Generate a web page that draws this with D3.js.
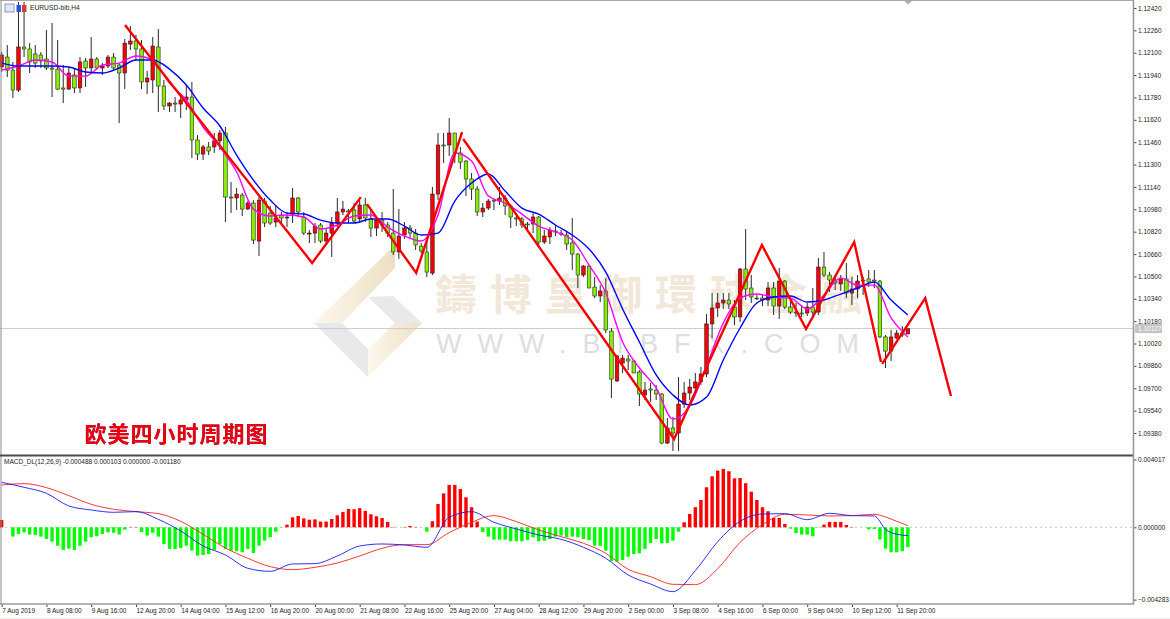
<!DOCTYPE html>
<html><head><meta charset="utf-8">
<script src="https://cdnjs.cloudflare.com/ajax/libs/d3/7.8.5/d3.min.js"></script>
<style>
html,body{margin:0;padding:0;background:#fff;overflow:hidden}
svg{display:block}
text{font-family:"Liberation Sans",Arial,sans-serif}
</style></head><body>
<svg id="c" width="1170" height="619"></svg>
<script>
// ---------- data ----------
const symbolTitle = "EURUSD-bib,H4";
const macdTitle = "MACD_DL(12,26,9) -0.000488 0.000103 0.000000 -0.001180";
const chartNote = "欧美四小时周期图";
const wmCn = "鑄博皇御環球金融";
const wmEn = "WWW.BIBFX.COM";
const lastPrice = 1.10127;

const opens = [1.11998,1.12069,1.11976,1.11833,1.12141,1.12127,1.12091,1.12084,1.12055,1.11991,1.11983,1.11848,1.11840,1.11941,1.11848,1.12041,1.11991,1.12055,1.11991,1.12005,1.12069,1.12012,1.11955,1.12162,1.12184,1.12127,1.11891,1.11905,1.12141,1.11862,1.11719,1.11740,1.11733,1.11762,1.11783,1.11476,1.11375,1.11426,1.11426,1.11469,1.11526,1.11068,1.11061,1.11082,1.10982,1.11025,1.10753,1.11039,1.10953,1.10889,1.10939,1.10918,1.10946,1.11061,1.10925,1.10803,1.10810,1.10868,1.10753,1.10810,1.10882,1.10961,1.10968,1.10975,1.10911,1.11011,1.10911,1.10846,1.10903,1.10868,1.10810,1.10675,1.10796,1.10846,1.10810,1.10717,1.10675,1.10524,1.11089,1.11440,1.11440,1.11526,1.11383,1.11325,1.11197,1.11125,1.10961,1.10989,1.11046,1.11039,1.11061,1.11004,1.10918,1.10911,1.10875,1.10875,1.10925,1.10746,1.10782,1.10825,1.10810,1.10796,1.10739,1.10660,1.10510,1.10574,1.10424,1.10360,1.10396,1.10109,1.09752,1.09880,1.09909,1.09895,1.09816,1.09652,1.09695,1.09687,1.09659,1.09308,1.09416,1.09380,1.09587,1.09666,1.09702,1.09745,1.09802,1.10160,1.10274,1.10310,1.10331,1.10281,1.10210,1.10553,1.10417,1.10345,1.10345,1.10331,1.10417,1.10288,1.10467,1.10281,1.10245,1.10238,1.10238,1.10281,1.10245,1.10567,1.10510,1.10474,1.10446,1.10482,1.10381,1.10410,1.10474,1.10482,1.10474,1.10467,1.10067,1.09966,1.10059,1.10095,1.10088];
const highs = [1.12105,1.12155,1.12034,1.12463,1.12463,1.12169,1.12155,1.12105,1.12262,1.12313,1.12191,1.12012,1.11998,1.11991,1.12069,1.12062,1.12212,1.12069,1.12026,1.12084,1.12098,1.12026,1.12198,1.12291,1.12227,1.12191,1.11969,1.12212,1.12270,1.11905,1.11747,1.11783,1.11798,1.11869,1.11891,1.11511,1.11440,1.11462,1.11526,1.11547,1.11569,1.11175,1.11133,1.11097,1.11039,1.11046,1.11068,1.11061,1.11004,1.11011,1.10961,1.10961,1.11133,1.11068,1.10961,1.10832,1.10882,1.10882,1.10846,1.10925,1.11061,1.11039,1.10982,1.11025,1.11046,1.11061,1.10975,1.10925,1.10961,1.10889,1.11125,1.10982,1.10889,1.10868,1.10839,1.10739,1.10760,1.11140,1.11526,1.11526,1.11633,1.11526,1.11426,1.11333,1.11240,1.11147,1.11025,1.11054,1.11054,1.11140,1.11082,1.11018,1.10953,1.10925,1.10889,1.10953,1.10932,1.10832,1.10853,1.10868,1.10832,1.10818,1.10918,1.10667,1.10581,1.10581,1.10496,1.10438,1.10488,1.10131,1.09938,1.09938,1.09938,1.09902,1.09830,1.09745,1.09738,1.09723,1.09666,1.09487,1.09494,1.09780,1.09745,1.09766,1.09809,1.09852,1.10231,1.10381,1.10381,1.10381,1.10381,1.10331,1.10560,1.10839,1.10510,1.10367,1.10367,1.10460,1.10460,1.10560,1.10474,1.10345,1.10310,1.10296,1.10310,1.10417,1.10632,1.10675,1.10531,1.10510,1.10510,1.10596,1.10496,1.10510,1.10496,1.10546,1.10546,1.10474,1.10081,1.10117,1.10117,1.10145,1.10124];
const lows = [1.11962,1.11926,1.11776,1.11819,1.12069,1.11955,1.11991,1.11991,1.11976,1.11783,1.11833,1.11740,1.11833,1.11812,1.11812,1.11855,1.11962,1.11976,1.11941,1.11991,1.11976,1.11597,1.11840,1.12119,1.12048,1.11840,1.11805,1.11812,1.11676,1.11690,1.11676,1.11676,1.11633,1.11690,1.11347,1.11333,1.11333,1.11368,1.11383,1.11404,1.10889,1.10953,1.10975,1.10932,1.10975,1.10732,1.10646,1.10853,1.10868,1.10853,1.10882,1.10853,1.10882,1.10925,1.10796,1.10739,1.10739,1.10739,1.10739,1.10639,1.10853,1.10939,1.10882,1.10882,1.10889,1.10889,1.10782,1.10789,1.10818,1.10782,1.10653,1.10625,1.10768,1.10768,1.10689,1.10667,1.10496,1.10510,1.11046,1.11311,1.11361,1.11311,1.11268,1.11075,1.11046,1.10932,1.10925,1.10975,1.10975,1.11011,1.10939,1.10846,1.10860,1.10846,1.10818,1.10810,1.10717,1.10732,1.10732,1.10789,1.10789,1.10689,1.10546,1.10417,1.10496,1.10417,1.10345,1.10317,1.10095,1.09630,1.09745,1.09809,1.09830,1.09809,1.09573,1.09616,1.09602,1.09616,1.09301,1.09301,1.09251,1.09251,1.09559,1.09616,1.09652,1.09723,1.09780,1.10059,1.10210,1.10267,1.10267,1.10152,1.10174,1.10331,1.10310,1.10331,1.10288,1.10288,1.10224,1.10195,1.10267,1.10231,1.10210,1.10210,1.10217,1.10210,1.10224,1.10496,1.10388,1.10403,1.10396,1.10345,1.10296,1.10345,1.10367,1.10424,1.10417,1.10059,1.09845,1.09895,1.10052,1.10067,1.10088];
const closes = [1.12084,1.11976,1.11833,1.12141,1.12127,1.12034,1.12026,1.12041,1.11991,1.11983,1.11840,1.11840,1.11955,1.11848,1.12034,1.11991,1.12055,1.11991,1.12005,1.12069,1.11991,1.11955,1.12169,1.12184,1.12127,1.11891,1.11919,1.12148,1.11862,1.11719,1.11740,1.11733,1.11762,1.11783,1.11476,1.11375,1.11426,1.11397,1.11469,1.11526,1.11068,1.11061,1.11089,1.10982,1.11025,1.10760,1.11046,1.10882,1.10882,1.10918,1.10918,1.10925,1.11061,1.10961,1.10810,1.10810,1.10860,1.10753,1.10810,1.10882,1.10961,1.10982,1.10961,1.10896,1.11011,1.10918,1.10846,1.10903,1.10868,1.10810,1.10675,1.10789,1.10846,1.10810,1.10725,1.10682,1.10531,1.11089,1.11440,1.11433,1.11526,1.11383,1.11318,1.11197,1.11125,1.10961,1.10989,1.11039,1.11039,1.11061,1.11004,1.10925,1.10911,1.10868,1.10868,1.10925,1.10746,1.10789,1.10832,1.10818,1.10803,1.10732,1.10660,1.10510,1.10574,1.10417,1.10360,1.10396,1.10117,1.09766,1.09931,1.09916,1.09895,1.09809,1.09659,1.09687,1.09687,1.09659,1.09308,1.09416,1.09380,1.09587,1.09666,1.09709,1.09745,1.09802,1.10160,1.10274,1.10310,1.10331,1.10303,1.10210,1.10553,1.10410,1.10353,1.10340,1.10331,1.10417,1.10288,1.10467,1.10281,1.10245,1.10238,1.10231,1.10281,1.10245,1.10567,1.10510,1.10474,1.10453,1.10482,1.10381,1.10410,1.10467,1.10467,1.10460,1.10467,1.10067,1.09966,1.10067,1.10095,1.10081,1.10127];

const maBars = [0,3,6,9,12,15,18,21,24,27,30,33,36,39,42,45,48,51,54,57,60,63,66,69,72,75,78,81,84,87,90,93,96,99,102,105,108,111,114,117,120,123,126,129,132,135,138,141,144,147,150,153,156,159,162];
const blueMa = [1.12026,1.12005,1.12005,1.12005,1.11998,1.11962,1.11955,1.11991,1.12048,1.12048,1.11983,1.11869,1.11705,1.11576,1.11368,1.11189,1.11046,1.10953,1.10946,1.10903,1.10882,1.10882,1.10911,1.10911,1.10860,1.10796,1.10810,1.11039,1.11168,1.11233,1.11111,1.10989,1.10946,1.10868,1.10796,1.10696,1.10531,1.10267,1.10031,1.09795,1.09652,1.09580,1.09637,1.09902,1.10131,1.10310,1.10353,1.10360,1.10317,1.10331,1.10374,1.10417,1.10460,1.10331,1.10224];
const magentaMa = [1.11976,1.12005,1.12048,1.12034,1.11933,1.11933,1.12012,1.12026,1.12077,1.12048,1.11883,1.11762,1.11569,1.11426,1.11247,1.10982,1.10932,1.10939,1.10925,1.10839,1.10868,1.10932,1.10939,1.10853,1.10789,1.10753,1.10939,1.11383,1.11325,1.11075,1.11025,1.10946,1.10860,1.10818,1.10760,1.10581,1.10381,1.10031,1.09845,1.09702,1.09480,1.09573,1.09859,1.10167,1.10345,1.10374,1.10353,1.10345,1.10267,1.10367,1.10488,1.10438,1.10438,1.10203,1.10067];

const zigABars = [22.04,55.5,64.2];
const zigAPrices = [1.12298,1.10596,1.11067];
const zigBBars = [65.3,74.1,82.3];
const zigBPrices = [1.11017,1.10525,1.11533];
const zigCBars = [82.5,120.2,135.9,143.8,152.4,157.2];
const zigCPrices = [1.11483,1.09337,1.10725,1.10124,1.10746,1.09888];
const zigDBars = [157.4,165.1,169.7];
const zigDPrices = [1.09874,1.10345,1.09645];

const macdHist = [0.00043,0,-0.00055,-0.0004,-0.0003,-0.00043,-0.00045,-0.00055,-0.00069,-0.00085,-0.00109,-0.00134,-0.00126,-0.00134,-0.00109,-0.00085,-0.00059,-0.00053,-0.0004,-0.0003,-0.00032,-0.00043,-0.00014,0.00002,0.00002,-0.00028,-0.00049,-0.00032,-0.00055,-0.00099,-0.00128,-0.00128,-0.00122,-0.00109,-0.00138,-0.00168,-0.00164,-0.00158,-0.00134,-0.00099,-0.00128,-0.00138,-0.00142,-0.00148,-0.00128,-0.00152,-0.00109,-0.00079,-0.00059,-0.00026,-0.00002,0.00016,0.00059,0.00067,0.00053,0.00045,0.00047,0.00034,0.00034,0.00049,0.00071,0.00091,0.00109,0.00107,0.00113,0.00097,0.00077,0.00065,0.00055,0.00032,0.00002,0,0.00002,0.00008,0.00002,0,-0.00026,0.00036,0.00138,0.00201,0.00251,0.00251,0.00227,0.00178,0.00119,0.00034,-0.00028,-0.00055,-0.00073,-0.00073,-0.00073,-0.00083,-0.00083,-0.00083,-0.00075,-0.00059,-0.00083,-0.00079,-0.00069,-0.00055,-0.00049,-0.00059,-0.00055,-0.00059,-0.00069,-0.00075,-0.00109,-0.00109,-0.00138,-0.00201,-0.00203,-0.00194,-0.00174,-0.00158,-0.00154,-0.00128,-0.00093,-0.00069,-0.00095,-0.00093,-0.00079,-0.00026,0.0003,0.00079,0.00119,0.00162,0.00237,0.00302,0.00336,0.00346,0.00332,0.0029,0.00292,0.00261,0.00211,0.00162,0.00119,0.00095,0.00055,0.00055,0.0002,-0.00008,-0.00034,-0.00043,-0.00043,-0.00053,-0.00002,0.00016,0.00032,0.00032,0.00032,0.00014,0.00002,0,0,-0.00012,-0.0001,-0.00073,-0.00126,-0.00148,-0.00148,-0.00142,-0.00118];
const macdBars = [0,4,8,12,16,20,24,28,32,36,40,44,48,52,56,60,64,68,72,76,80,84,88,92,96,100,104,108,112,116,120,124,128,132,136,140,144,148,152,156,158,160,162];
const macdMain = [0.002666,0.00237,0.002015,0.001264,0.001027,0.000889,0.000928,0.000474,-0.000217,-0.001106,-0.001639,-0.002429,-0.002607,-0.002173,-0.002153,-0.001699,-0.001106,-0.000988,-0.001047,-0.001185,0.000593,0.000928,0.000296,-0.000099,-0.000454,-0.000711,-0.001185,-0.001837,-0.002824,-0.003358,-0.003812,-0.002568,-0.000849,0.000356,0.00079,0.00081,0.000454,0.00083,0.000691,0.000672,-0.000119,-0.000415,-0.000488];
const macdSignal = [0.002508,0.002587,0.00235,0.001876,0.001363,0.001067,0.000928,0.00081,0.000356,-0.000415,-0.001225,-0.001837,-0.00233,-0.002508,-0.00237,-0.002113,-0.001699,-0.001244,-0.001027,-0.001027,-0.000316,0.000296,0.000691,0.000336,-0.000158,-0.000553,-0.000948,-0.00154,-0.002489,-0.002923,-0.003377,-0.003397,-0.002449,-0.000889,0.000158,0.00077,0.000731,0.000672,0.000691,0.00077,0.000612,0.000356,0.000103];

const priceTicks = [1.12420,1.12260,1.12100,1.11940,1.11780,1.11620,1.11460,1.11300,1.11140,1.10980,1.10820,1.10660,1.10500,1.10340,1.10180,1.10020,1.09860,1.09700,1.09540,1.09380];
const macdTicks = [0.004017,0,-0.004283];
const timeTickBars = [0,8,16,24,32,40,48,56,64,72,80,88,96,104,112,120,128,136,144,152,160];
const timeTickLabels = ["7 Aug 2019","8 Aug 08:00","9 Aug 16:00","12 Aug 20:00","14 Aug 04:00","15 Aug 12:00","16 Aug 20:00","20 Aug 00:00","21 Aug 08:00","22 Aug 16:00","25 Aug 20:00","27 Aug 04:00","28 Aug 12:00","29 Aug 20:00","2 Sep 00:00","3 Sep 08:00","4 Sep 16:00","6 Sep 00:00","9 Sep 04:00","10 Sep 12:00","11 Sep 20:00"];

// ---------- scales ----------
const x = d3.scaleLinear().domain([0,160]).range([1.7,896.7]);
const yP = d3.scaleLinear().domain([1.09380,1.12420]).range([433,8]);
const yM = d3.scaleLinear().domain([-0.004283,0.004017]).range([599.6,459.5]);
const svg = d3.select("#c");
const axisX = 1133.5, panelBottomY = 604;

// ---------- watermark ----------
const defs = svg.append("defs");
const g1 = defs.append("linearGradient").attr("id","tanA").attr("x1",0).attr("x2",1).attr("y1",0).attr("y2",0);
g1.append("stop").attr("offset",0).attr("stop-color","#fdf8ee");
g1.append("stop").attr("offset",1).attr("stop-color","#eddfc3");
const wm = svg.append("g");
const logoPolys = [
  {p:[[314,323],[395,245],[395,268],[342,323]],f:"url(#tanA)"},
  {p:[[314,323],[342,323],[368,349],[368,377]],f:"#e9e9ec"},
  {p:[[368,349],[395,323],[422,323],[368,377]],f:"url(#tanA)"},
  {p:[[368,297],[393,296],[422,323],[395,323]],f:"#e9e9ec"}
];
wm.selectAll("polygon").data(logoPolys).join("polygon")
  .attr("points",d=>d.p.map(q=>q.join(",")).join(" ")).attr("fill",d=>d.f);
wm.append("text").attr("x",435).attr("y",310).text(wmCn)
  .style("font-family",'"Noto Sans CJK TC"').style("font-size","42px").style("font-weight",700)
  .style("letter-spacing","13px").attr("fill","#f2e8d9");
wm.append("text").attr("x",436).attr("y",353).text(wmEn)
  .style("font-size","27px").style("letter-spacing","16px").attr("fill","#dedede");

// ---------- price panel ----------
svg.append("line").attr("x1",0).attr("x2",axisX).attr("y1",yP(lastPrice)).attr("y2",yP(lastPrice))
  .attr("stroke","#cbcbcb").attr("stroke-width",1);

const candles = opens.map((o,i)=>({i,o,h:highs[i],l:lows[i],c:closes[i]}));
const gc = svg.append("g");
gc.selectAll("line").data(candles).join("line")
  .attr("x1",d=>x(d.i)).attr("x2",d=>x(d.i))
  .attr("y1",d=>yP(d.h)).attr("y2",d=>yP(d.l))
  .attr("stroke","#2a2a2a").attr("stroke-width",1);
gc.selectAll("rect").data(candles).join("rect")
  .attr("x",d=>x(d.i)-1.8).attr("width",3.6)
  .attr("y",d=>yP(Math.max(d.o,d.c)))
  .attr("height",d=>Math.max(0.8,Math.abs(yP(d.o)-yP(d.c))))
  .attr("fill",d=>d.c>=d.o?"#fa0000":"#84f000")
  .attr("stroke","#1a1a1a").attr("stroke-width",0.55);

const maLine = d3.line().x((d,i)=>x(maBars[i])).y(d=>yP(d)).curve(d3.curveMonotoneX);
svg.append("path").attr("d",maLine(magentaMa)).attr("fill","none").attr("stroke","#ff00ff").attr("stroke-width",1.4);
svg.append("path").attr("d",maLine(blueMa)).attr("fill","none").attr("stroke","#0000ff").attr("stroke-width",1.4);

const zigs = [[zigABars,zigAPrices],[zigBBars,zigBPrices],[zigCBars,zigCPrices],[zigDBars,zigDPrices]];
svg.selectAll("path.zig").data(zigs).join("path").attr("class","zig")
  .attr("d",z=>d3.line().x((d,i)=>x(z[0][i])).y(d=>yP(d))(z[1]))
  .attr("fill","none").attr("stroke","#f80000").attr("stroke-width",2.4).attr("stroke-linejoin","miter");

svg.append("text").attr("x",84.5).attr("y",442).text(chartNote)
  .style("font-family",'"Noto Sans CJK SC"').style("font-size","22px").style("font-weight",700)
  .style("letter-spacing","1px").attr("fill","#f00000")
  .style("filter","drop-shadow(0.8px 0 0 #3838c8)");

// ---------- MACD panel ----------
svg.append("line").attr("x1",0).attr("x2",axisX).attr("y1",yM(0)).attr("y2",yM(0))
  .attr("stroke","#c4c4c4").attr("stroke-dasharray","2,3");
svg.append("g").selectAll("rect").data(macdHist).join("rect")
  .attr("x",(d,i)=>x(i)-1.7).attr("width",3.4)
  .attr("y",d=>d>0?yM(d):yM(0)).attr("height",d=>Math.abs(yM(d)-yM(0)))
  .attr("fill",d=>d>=0?"#ff0000":"#00ff00");
const macdLine = d3.line().x((d,i)=>x(macdBars[i])).y(d=>yM(d)).curve(d3.curveMonotoneX);
svg.append("path").attr("d",macdLine(macdSignal)).attr("fill","none").attr("stroke","#ff2020").attr("stroke-width",0.9);
svg.append("path").attr("d",macdLine(macdMain)).attr("fill","none").attr("stroke","#1818f0").attr("stroke-width",0.9);

// ---------- axes ----------
const styleAxis = g=>{
  g.select(".domain").remove();
  g.selectAll("line").attr("stroke","#444");
  g.selectAll("text").style("font-size","6.5px").attr("fill","#222");
};
svg.append("g").attr("transform",`translate(${axisX},0)`)
  .call(d3.axisRight(yP).tickValues(priceTicks).tickFormat(d3.format(".5f")).tickSize(3).tickPadding(1.5)).call(styleAxis);
svg.append("g").attr("transform",`translate(${axisX},0)`)
  .call(d3.axisRight(yM).tickValues(macdTicks).tickFormat(d3.format(".6f")).tickSize(3).tickPadding(1.5)).call(styleAxis);
svg.append("g").attr("transform",`translate(0,${panelBottomY})`)
  .call(d3.axisBottom(x).tickValues(timeTickBars).tickFormat((d,i)=>timeTickLabels[i]).tickSize(3).tickPadding(1.5))
  .call(styleAxis).selectAll("text").attr("text-anchor","start");

// last price flag
const lp = svg.append("g").attr("transform",`translate(${axisX+1.5},${yP(lastPrice)})`);
lp.append("rect").attr("x",0).attr("y",-4.5).attr("width",27).attr("height",9).attr("fill","#c4c4c4");
lp.append("text").attr("x",3).attr("y",2.4).text(d3.format(".5f")(lastPrice)).style("font-size","6.5px").attr("fill","#fff");

// ---------- frame ----------
const frame = [
  [0.5,0.5,1133,0.5,"#a8a8a8",1.2],
  [1,0,1,604,"#8a8a8a",1],
  [0,455.5,1134,455.5,"#4a4a4a",2],
  [0,604,1134,604,"#9a9a9a",1.5],
  [axisX,0,axisX,604,"#9a9a9a",1.6],
  [0,618.5,1170,618.5,"#eeeeee",1]
];
svg.append("g").selectAll("line").data(frame).join("line")
  .attr("x1",d=>d[0]).attr("y1",d=>d[1]).attr("x2",d=>d[2]).attr("y2",d=>d[3])
  .attr("stroke",d=>d[4]).attr("stroke-width",d=>d[5]);
svg.append("polygon").attr("points","904.5,1 912,1 908,4.5").attr("fill","#b0b0b0");

// ---------- titles ----------
svg.append("text").attr("x",30).attr("y",10).text(symbolTitle).style("font-size","6.7px").attr("fill","#222");
svg.append("text").attr("x",4).attr("y",464).text(macdTitle).style("font-size","6.5px").attr("fill","#222");
const ic = svg.append("g");
ic.append("rect").attr("x",5).attr("y",4).attr("width",9).attr("height",8).attr("fill","#dfe6f5").attr("stroke","#7b7f9a").attr("stroke-width",0.8);
ic.append("rect").attr("x",16.5).attr("y",5).attr("width",4.5).attr("height",7).attr("fill","#2c4fd8");
ic.append("rect").attr("x",22).attr("y",5).attr("width",4.5).attr("height",7).attr("fill","#d83a3a");
</script>
</body></html>
